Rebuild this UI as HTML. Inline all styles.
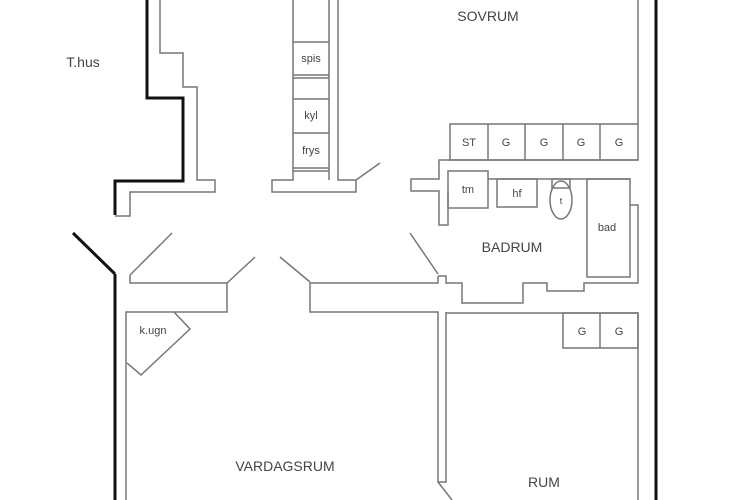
<!DOCTYPE html>
<html><head><style>
body{margin:0;background:#fff}
svg{display:block}
text{font-family:"Liberation Sans",sans-serif;fill:#444}
</style></head><body>
<svg width="740" height="500" viewBox="0 0 740 500" xmlns="http://www.w3.org/2000/svg">
<g fill="none" stroke="#777" stroke-width="1.5">
<polyline points="160,0 160,53 183,53 183,87 197,87 197,180 215,180 215,192 130,192 130,216 115,216"/>
<polyline points="293,0 293,180 272,180 272,192 356,192 356,180 338,180 338,0"/>
<line x1="329" y1="0" x2="329" y2="180"/>
<line x1="293" y1="42" x2="329" y2="42"/>
<line x1="293" y1="75" x2="329" y2="75"/>
<line x1="293" y1="78" x2="329" y2="78"/>
<line x1="293" y1="99" x2="329" y2="99"/>
<line x1="293" y1="133" x2="329" y2="133"/>
<line x1="293" y1="168" x2="329" y2="168"/>
<line x1="293" y1="171" x2="329" y2="171"/>
<line x1="356" y1="180" x2="380" y2="163"/>
<line x1="130" y1="275" x2="172" y2="233"/>
<line x1="227" y1="283" x2="255" y2="257"/>
<line x1="280" y1="257" x2="310" y2="282"/>
<line x1="410" y1="233" x2="438" y2="274"/>
<polyline points="126,500 126,312 227,312 227,283 130,283 130,275"/>
<polyline points="438,276 438,283 310,283 310,312 438,312 438,482 446,482 446,312"/>
<line x1="438" y1="482" x2="452" y2="500"/>
<polyline points="174,312 190,329 141,375 127,363"/>
<line x1="638" y1="0" x2="638" y2="124"/>
<rect x="450" y="124" width="188" height="36"/>
<line x1="488" y1="124" x2="488" y2="160"/>
<line x1="525" y1="124" x2="525" y2="160"/>
<line x1="563" y1="124" x2="563" y2="160"/>
<line x1="600" y1="124" x2="600" y2="160"/>
<polyline points="638,160 439,160 439,179 411,179 411,191 439,191 439,225 448,225 448,191"/>
<rect x="448" y="171" width="40" height="37"/>
<rect x="497" y="179" width="40" height="28"/>
<line x1="488" y1="179" x2="630" y2="179"/>
<rect x="587" y="179" width="43" height="98"/>
<ellipse cx="561" cy="200" rx="11" ry="19"/>
<rect x="552" y="179" width="18" height="9"/>
<polyline points="630,205 638,205 638,283 584,283 584,291 547,291 547,283 523,283 523,303 462,303 462,283 446,283 446,276 438,276"/>
<polyline points="446,313 638,313 638,500"/>
<rect x="563" y="313" width="75" height="35"/>
<line x1="600" y1="313" x2="600" y2="348"/>
</g>
<g fill="none" stroke="#111" stroke-width="3">
<polyline points="147,0 147,98 183,98 183,181 115,181 115,215"/>
<line x1="73" y1="233" x2="115" y2="274"/>
<line x1="115" y1="274" x2="115" y2="500"/>
<line x1="656" y1="0" x2="656" y2="500"/>
</g>
<g font-size="11" text-anchor="middle">
<text x="311" y="62">spis</text>
<text x="311" y="119">kyl</text>
<text x="311" y="154">frys</text>
<text x="469" y="146">ST</text>
<text x="506" y="146">G</text>
<text x="544" y="146">G</text>
<text x="581" y="146">G</text>
<text x="619" y="146">G</text>
<text x="468" y="193">tm</text>
<text x="517" y="197">hf</text>
<text x="561" y="204" font-size="9">t</text>
<text x="607" y="231">bad</text>
<text x="582" y="335">G</text>
<text x="619" y="335">G</text>
<text x="153" y="334">k.ugn</text>
</g>
<g font-size="14" text-anchor="middle">
<text x="83" y="67">T.hus</text>
<text x="488" y="21">SOVRUM</text>
<text x="512" y="252">BADRUM</text>
<text x="285" y="471">VARDAGSRUM</text>
<text x="544" y="487">RUM</text>
</g>
</svg>
</body></html>
